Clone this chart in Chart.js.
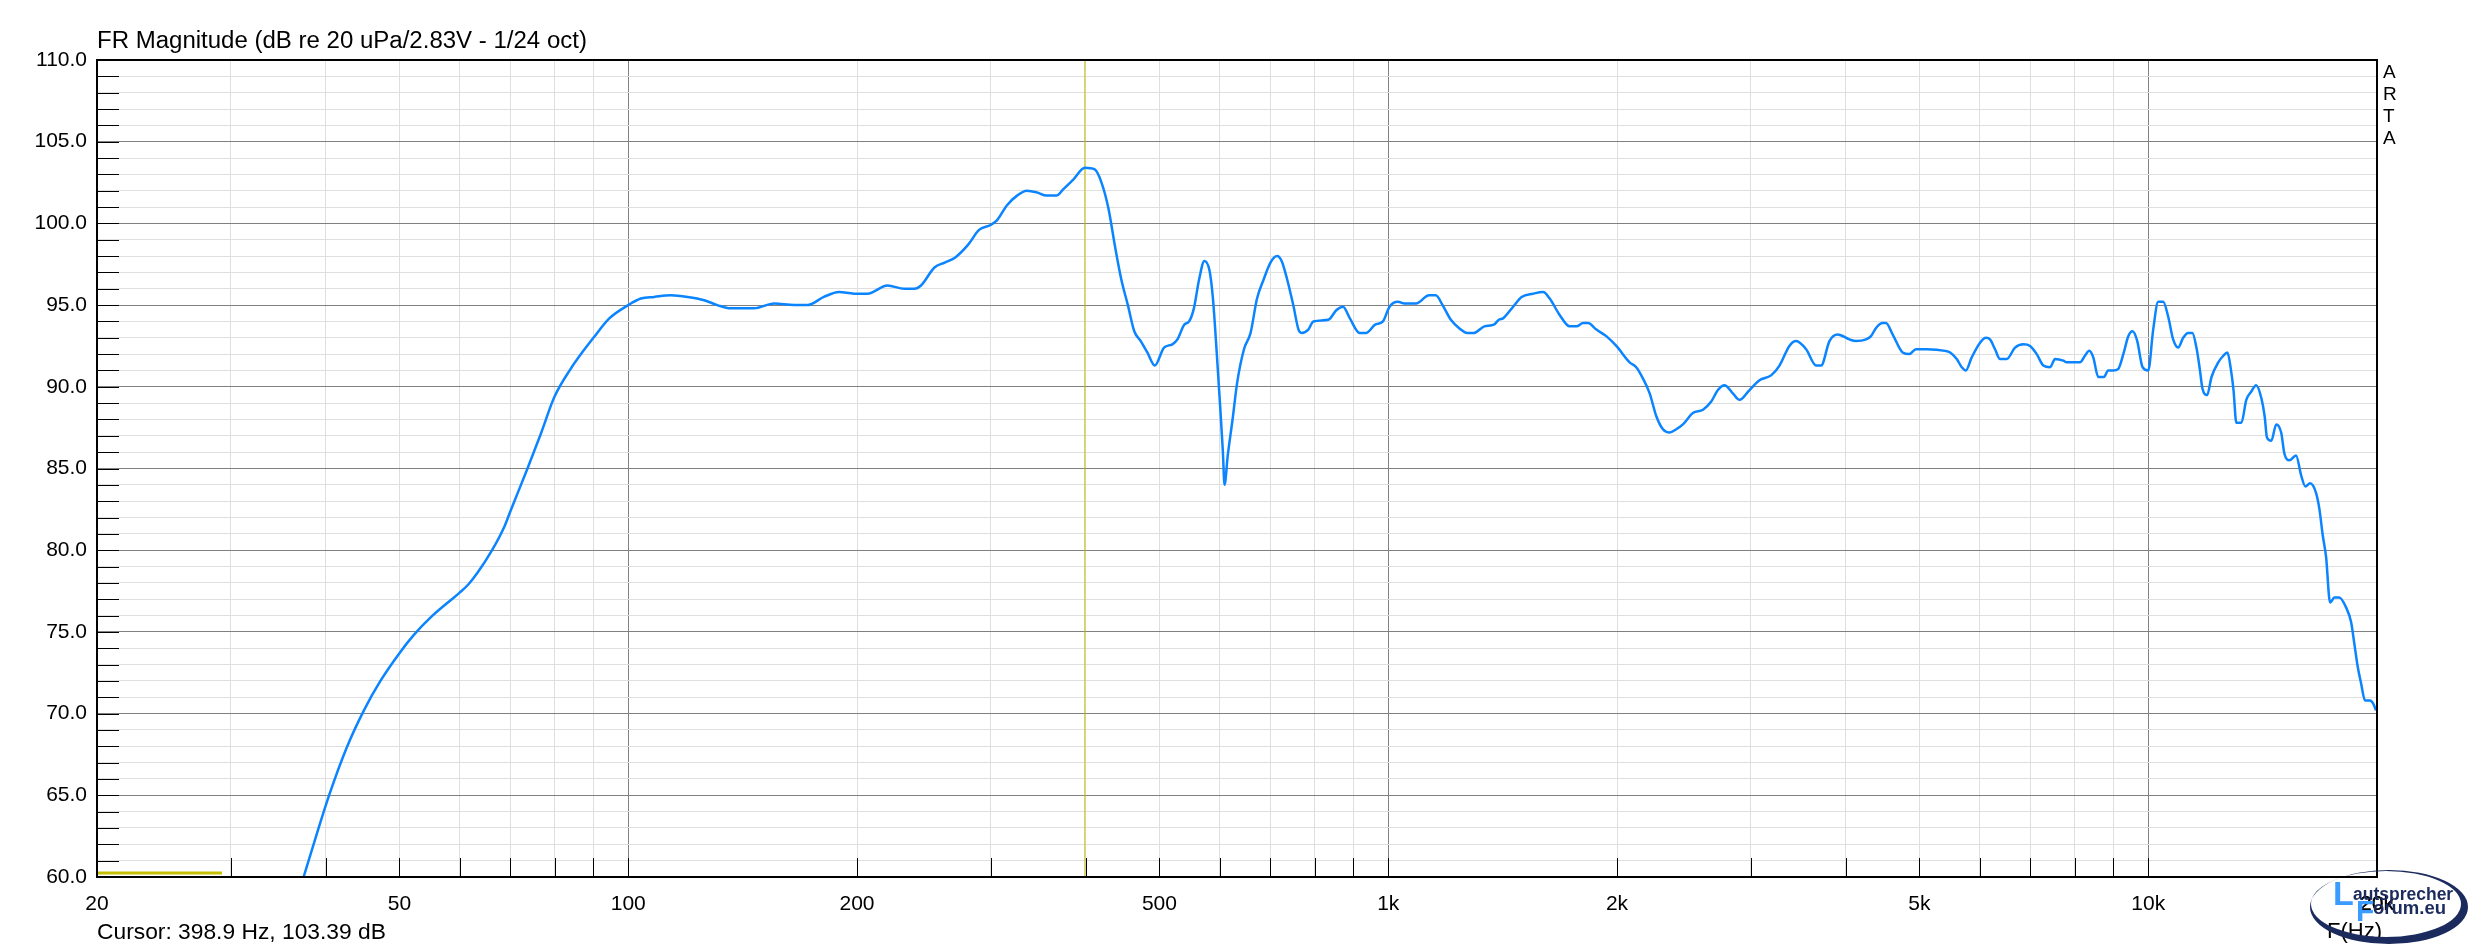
<!DOCTYPE html>
<html>
<head>
<meta charset="utf-8">
<title>FR Magnitude</title>
<script src="https://cdn.jsdelivr.net/npm/chart.js@4.4.1/dist/chart.umd.min.js"></script>
<style>
  html, body { margin: 0; padding: 0; background: #fff; }
  #wrap { position: relative; width: 2473px; height: 950px; overflow: hidden;
          font-family: "Liberation Sans", Arial, sans-serif; color: #000; }
  #chart { position: absolute; left: 0; top: 0; }
  .txt { position: absolute; white-space: nowrap; line-height: 1; }
  #title { left: 97px; top: 28px; font-size: 24px; }
  #cursor { left: 97px; top: 920px; font-size: 23px; }
  #fhz { left: 2327px; top: 920px; font-size: 22px; }
  #arta { position: absolute; left: 2383px; top: 61px; font-size: 19px; line-height: 22px; width: 20px; }
  #logo { position: absolute; left: 2293px; top: 860px; }
  .lg { position: absolute; white-space: nowrap; line-height: 1; font-weight: bold; }
</style>
</head>
<body>
<div id="wrap">
  <canvas id="chart" width="2473" height="950"></canvas>
  <div class="txt" id="title">FR Magnitude (dB re 20 uPa/2.83V - 1/24 oct)</div>
  <div id="arta">A<br>R<br>T<br>A</div>
  <div class="txt" id="cursor">Cursor: 398.9 Hz, 103.39 dB</div>
  <div class="txt" id="fhz">F(Hz)</div>
  <svg id="logo" width="180" height="90" viewBox="0 0 180 90">
    <path fill="#1c2b5e" fill-rule="evenodd"
      d="M17,47 a79,37 0 1,0 158,0 a79,37 0 1,0 -158,0 Z M18,44 a75,33 0 1,0 150,0 a75,33 0 1,0 -150,0 Z"/>
  </svg>
  <div class="lg" style="left:2333px;top:876px;font-size:34px;color:#3a9cff;">L</div>
  <div class="lg" style="left:2353px;top:886px;font-size:17.5px;color:#1c2b5e;">autsprecher</div>
  <div class="lg" style="left:2356px;top:896px;font-size:30px;color:#3a9cff;">F</div>
  <div class="lg" style="left:2373px;top:899px;font-size:18.5px;color:#1c2b5e;">orum.eu</div>
</div>
<script>
const freqHz = [
  37.4, 38.9, 40.4, 42.6, 44.9, 47.2, 50, 52.2, 55, 58.6,
  60, 61.6, 63.3, 66.2, 68.8, 70, 73.7, 76.7, 80, 84,
  87.3, 90, 94.5, 100, 103.9, 108.2, 113.8, 119.7, 125.9, 131,
  136.4, 146.4, 155.6, 165.3, 172, 180.9, 189.4, 198.2, 206.4, 219.3,
  230.7, 237.9, 242.8, 252.9, 260.9, 269.1, 280.1, 289.5, 299.8, 305.8,
  314.9, 324.8, 334.6, 344.7, 355.2, 365.9, 373.8, 385.4, 398.9, 411,
  419.5, 428.5, 437, 445.3, 454.4, 463.3, 472.5, 482, 493, 507,
  520, 528, 539, 547, 555, 564, 573, 582, 588, 594,
  601, 606, 609, 615, 624, 633, 646, 659, 672, 686,
  700, 714, 724, 736, 750, 762, 769, 785, 797, 834,
  855, 872, 890, 917, 936, 961, 984, 1004, 1030, 1050,
  1088, 1132, 1155, 1179, 1209, 1239, 1271, 1297, 1338, 1377,
  1398, 1417, 1460, 1498, 1551, 1599, 1631, 1681, 1733, 1769,
  1805, 1832, 1879, 1936, 1996, 2078, 2120, 2164, 2208, 2253,
  2299, 2346, 2393, 2442, 2517, 2595, 2661, 2715, 2770, 2841,
  2899, 2988, 3080, 3190, 3272, 3372, 3441, 3547, 3656, 3712,
  3807, 3904, 4044, 4126, 4253, 4318, 4384, 4473, 4518, 4611,
  4752, 4849, 4948, 5111, 5404, 5487, 5598, 5684, 5753, 5858,
  6008, 6118, 6192, 6287, 6383, 6514, 6680, 6851, 6990, 7134,
  7278, 7427, 7541, 7734, 7811, 8133, 8255, 8364, 8466, 8596,
  8744, 8858, 8995, 9133, 9274, 9414, 9538, 9673, 9830, 10000,
  10152, 10307, 10464, 10623, 10785, 10950, 11117, 11285, 11432, 11573,
  11690, 11785, 11954, 12114, 12364, 12555, 12711, 12843, 12949, 13060,
  13260, 13460, 13660, 13870, 14090, 14230, 14330, 14520, 14740, 14960,
  15110, 15340, 15650, 15890, 16100, 16330, 16630, 16800, 16970, 17140,
  17350, 17580, 17840, 18210, 18490, 18670, 18860, 19050, 19290, 19580,
  19780, 19940
];
const splDb = [
  60.0, 62.6, 65.0, 67.9, 70.2, 72.0, 73.7, 74.8, 75.9, 77.0,
  77.4, 77.9, 78.6, 80.0, 81.5, 82.4, 85.0, 87.1, 89.4, 91.1,
  92.2, 93.0, 94.2, 95.0, 95.4, 95.5, 95.6, 95.5, 95.3, 95.0,
  94.8, 94.8, 95.1, 95.0, 95.0, 95.5, 95.8, 95.7, 95.7, 96.2,
  96.0, 96.0, 96.2, 97.3, 97.6, 97.9, 98.7, 99.6, 99.9, 100.2,
  101.1, 101.7, 102.0, 101.9, 101.7, 101.7, 102.1, 102.7, 103.4, 103.3,
  102.5, 100.9, 98.6, 96.6, 95.0, 93.4, 92.8, 92.1, 91.3, 92.4,
  92.6, 92.9, 93.8, 94.0, 94.8, 96.6, 97.7, 97.1, 95.4, 92.5,
  88.8, 86.0, 84.0, 85.8, 88.0, 90.3, 92.3, 93.3, 95.4, 96.6,
  97.6, 98.0, 97.7, 96.6, 95.0, 93.5, 93.3, 93.5, 94.0, 94.1,
  94.7, 94.9, 94.2, 93.3, 93.3, 93.8, 94.0, 94.9, 95.2, 95.1,
  95.1, 95.6, 95.6, 95.0, 94.1, 93.6, 93.3, 93.3, 93.7, 93.8,
  94.1, 94.2, 94.9, 95.5, 95.7, 95.8, 95.4, 94.4, 93.7, 93.7,
  93.9, 93.9, 93.5, 93.1, 92.5, 91.5, 91.2, 90.5, 89.6, 88.2,
  87.4, 87.2, 87.4, 87.7, 88.4, 88.6, 89.1, 89.8, 90.1, 89.6,
  89.2, 89.8, 90.4, 90.7, 91.3, 92.5, 92.8, 92.3, 91.3, 91.3,
  92.8, 93.2, 92.9, 92.8, 92.9, 93.1, 93.6, 93.9, 93.9, 93.2,
  92.1, 92.0, 92.3, 92.3, 92.2, 92.1, 91.7, 91.2, 91.0, 91.8,
  92.7, 93.0, 92.9, 92.3, 91.7, 91.7, 92.4, 92.6, 92.5, 92.0,
  91.3, 91.2, 91.7, 91.6, 91.5, 91.5, 91.9, 92.2, 91.8, 90.6,
  90.6, 91.0, 91.0, 91.1, 92.0, 93.1, 93.4, 92.8, 91.2, 91.0,
  93.5, 95.2, 95.2, 94.3, 92.9, 92.4, 93.0, 93.3, 93.3, 92.4,
  91.1, 89.9, 89.5, 90.6, 91.5, 91.9, 92.1, 91.1, 89.8, 87.8,
  87.8, 89.2, 89.7, 90.1, 89.3, 88.2, 86.9, 86.7, 87.7, 87.2,
  85.9, 85.5, 85.8, 84.6, 83.9, 84.1, 83.5, 82.5, 80.9, 79.6,
  76.8, 77.1, 77.1, 76.5, 75.6, 74.3, 72.9, 71.9, 70.8, 70.8,
  70.6, 70.2
];

// cursor and the yellow marker at the bottom left
const cursorHz = 398.9;
const markerHz = [20, 29.2];
const markerDb = 60.25;

// axes
const xMin = 20, xMax = 20000;
const yMin = 60, yMax = 110;
const xLabelHz = [20, 50, 100, 200, 500, 1000, 2000, 5000, 10000, 20000];
const xLabelText = ["20", "50", "100", "200", "500", "1k", "2k", "5k", "10k", "20k"];

const xGrid = [];
for (let d = 10; d <= 10000; d *= 10) {
  for (let m = 1; m <= 9; m++) {
    const v = d * m;
    if (v >= xMin && v <= xMax) xGrid.push(v);
  }
}
xGrid.push(xMax);
const yGrid = [];
for (let v = yMin; v <= yMax; v++) yGrid.push(v);

const isDecade = v => [100, 1000, 10000].includes(v);
const major = "#808080";
const minor = "#dfdfdf";
const yellow = "#c4c000";

// header / footer text: stretch to the widths seen in the original
function fitText(id, width, midY) {
  const el = document.getElementById(id);
  const size = parseFloat(getComputedStyle(el).fontSize);
  const w = el.getBoundingClientRect().width;
  const s = size * width / w;
  el.style.fontSize = s.toFixed(2) + "px";
  el.style.top = (midY - 0.49 * s).toFixed(1) + "px";
}
fitText("title", 490, 40);
fitText("cursor", 289, 931);

Chart.defaults.font.family = '"Liberation Sans", Arial, sans-serif';
Chart.defaults.font.size = 21;
Chart.defaults.color = "#000";

/** inner ticks + frame, ARTA style */
const frame = {
  id: "frame",
  beforeDatasetsDraw(chart) {
    const { ctx, chartArea: a, scales: { x, y } } = chart;
    ctx.save();
    ctx.strokeStyle = "#000";
    ctx.lineWidth = 1;
    ctx.beginPath();
    for (const v of yGrid) {
      const py = Math.round(y.getPixelForValue(v)) + 0.5;
      ctx.moveTo(a.left, py);
      ctx.lineTo(a.left + 22, py);
    }
    for (const v of xGrid) {
      const px = Math.round(x.getPixelForValue(v)) + 0.5;
      ctx.moveTo(px, a.bottom);
      ctx.lineTo(px, a.bottom - 19);
    }
    ctx.stroke();
    ctx.restore();
  },
  afterDatasetsDraw(chart) {
    const { ctx, chartArea: a } = chart;
    ctx.save();
    ctx.strokeStyle = "#000";
    ctx.lineWidth = 2;
    ctx.strokeRect(a.left, a.top, a.right - a.left, a.bottom - a.top);
    ctx.restore();
  }
};

new Chart(document.getElementById("chart"), {
  type: "line",
  data: {
    datasets: [
      {
        label: "FR",
        data: freqHz.map((f, i) => ({ x: f, y: splDb[i] })),
        borderColor: "#0a84ff",
        borderWidth: 2.5,
        pointRadius: 0,
        cubicInterpolationMode: "monotone",
        order: 0
      },
      {
        label: "cursor",
        data: [{ x: cursorHz, y: yMin }, { x: cursorHz, y: yMax }],
        borderColor: yellow,
        borderWidth: 1,
        pointRadius: 0,
        order: 1
      },
      {
        label: "marker",
        data: markerHz.map(f => ({ x: f, y: markerDb })),
        borderColor: yellow,
        borderWidth: 3,
        pointRadius: 0,
        order: 2
      }
    ]
  },
  options: {
    responsive: false,
    devicePixelRatio: 1,
    animation: false,
    layout: { padding: { left: 0, top: 60, right: 96, bottom: 0 } },
    plugins: { legend: { display: false }, tooltip: { enabled: false } },
    scales: {
      x: {
        type: "logarithmic",
        min: xMin,
        max: xMax,
        afterBuildTicks: s => { s.ticks = xGrid.map(v => ({ value: v })); },
        afterFit: s => { s.height = 73; },
        border: { display: false },
        grid: {
          drawTicks: false,
          lineWidth: 1,
          color: c => (c.tick && isDecade(c.tick.value) ? major : minor)
        },
        ticks: {
          autoSkip: false,
          maxRotation: 0,
          padding: 15,
          font: { size: 21 },
          callback: v => {
            const i = xLabelHz.indexOf(v);
            return i >= 0 ? xLabelText[i] : "";
          }
        }
      },
      y: {
        type: "linear",
        min: yMin,
        max: yMax,
        afterBuildTicks: s => { s.ticks = yGrid.map(v => ({ value: v })); },
        afterFit: s => { s.width = 97; },
        border: { display: false },
        grid: {
          drawTicks: false,
          lineWidth: 1,
          color: c => (c.tick && c.tick.value % 5 === 0 ? major : minor)
        },
        ticks: {
          autoSkip: false,
          padding: 10,
          font: { size: 21 },
          callback: v => (v % 5 === 0 ? v.toFixed(1) : "")
        }
      }
    }
  },
  plugins: [frame]
});
</script>
</body>
</html>
